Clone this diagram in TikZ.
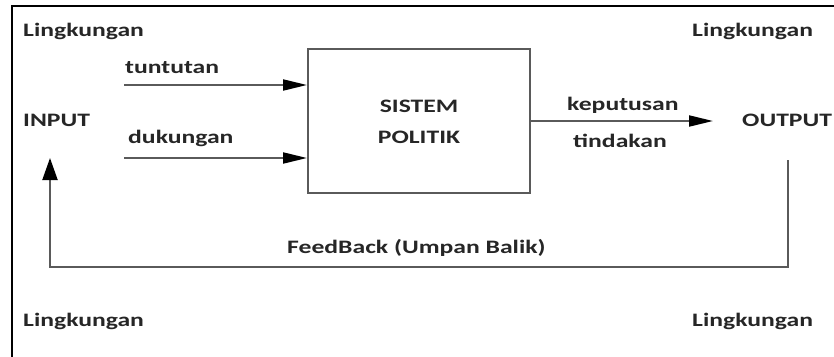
\documentclass[tikz,border=0pt]{standalone}
\usepackage{fontspec}
\setmainfont{Carlito}[FakeStretch=1.35]
\usetikzlibrary{arrows.meta}
\definecolor{linegray}{HTML}{5A5A5A}
\definecolor{textgray}{HTML}{262626}
\tikzset{
  lbl/.style={inner sep=0pt, anchor=base west, text=textgray, font=\fontsize{19}{22}\selectfont\bfseries},
  ln/.style={draw=linegray, line width=2pt},
  harr/.style={ln, -{Triangle[length=24pt,width=11pt,color=black]}},
  varr/.style={ln, -{Triangle[length=22pt,width=15pt,color=black]}},
}
\begin{document}
\begin{tikzpicture}[x=1pt,y=-1pt]
\useasboundingbox (0,0) rectangle (834,356);
\fill[white] (0,0) rectangle (834,356);
% outer frame (left and top)
\coordinate (fbl) at (12,360);
\coordinate (ftl) at (12,6);
\coordinate (ftr) at (840,6);
\draw[line width=2.5pt, black] (fbl) -- (ftl) -- (ftr);

% labels
\node[lbl] (l1) at (23,36) {Lingkungan};
\node[lbl] (l2) at (692,36) {Lingkungan};
\node[lbl] (l3) at (23,326) {Lingkungan};
\node[lbl] (l4) at (692,326) {Lingkungan};
\node[lbl] (tun) at (125,73) {tuntutan};
\node[lbl] (duk) at (128,143) {dukungan};
\node[lbl] (inp) at (23,126) {INPUT};
\node[lbl] (kep) at (567,110) {keputusan};
\node[lbl] (tin) at (573,147) {tindakan};
\node[lbl] (out) at (742,126) {OUTPUT};
\node[lbl] (fb) at (287,253) {FeedBack (Umpan Balik)};

% system box
\node[ln, minimum width=222pt, minimum height=144pt, inner sep=0pt] (sys) at (419,121) {};
\node[lbl, anchor=base] (s1) at (sys.center |- 0,112) {SISTEM};
\node[lbl, anchor=base] (s2) at (sys.center |- 0,143) {POLITIK};

% input arrows
\coordinate (t0) at (124,85);
\coordinate (d0) at (124,158);
\draw[harr] (t0) -- (t0 -| sys.west);
\draw[harr] (d0) -- (d0 -| sys.west);

% output arrow
\coordinate (o1) at (713,121);
\draw[harr] (sys.east) -- (o1);

% feedback loop
\coordinate (fb0) at (788,160);
\coordinate (fb1) at (788,267);
\coordinate (fb2) at (50,267);
\coordinate (in0) at (50,158);
\draw[varr] (fb0) -- (fb1) -- (fb2) -- (in0);
\end{tikzpicture}
\end{document}
